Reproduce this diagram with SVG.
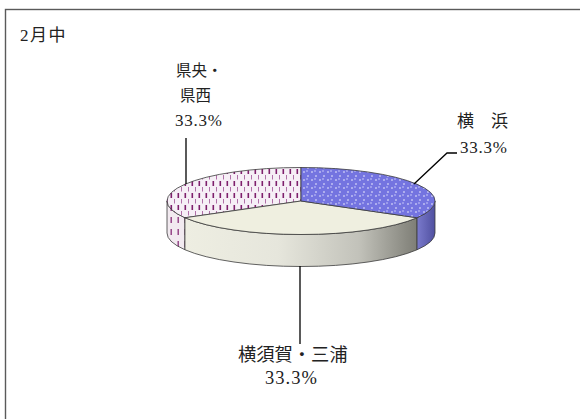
<svg xmlns="http://www.w3.org/2000/svg" width="580" height="419" viewBox="0 0 580 419">
<style>
.lbl{font-family:"Liberation Serif","Noto Sans CJK JP",serif;fill:#222;}
.edge{stroke:#3a3a3a;stroke-width:0.8;stroke-linejoin:round;}
.lead{fill:none;stroke:#000;stroke-width:1.3;}
</style>
<defs>
<pattern id="pBlue" width="8" height="8" patternUnits="userSpaceOnUse">
<rect width="8" height="8" fill="#cfcff6"/>
<rect x="2.5" y="2.5" width="3" height="3" fill="#f4f4ff"/>
<circle cx="0" cy="0" r="3.3" fill="#7474e0"/>
<circle cx="8" cy="0" r="3.3" fill="#7474e0"/>
<circle cx="0" cy="8" r="3.3" fill="#7474e0"/>
<circle cx="8" cy="8" r="3.3" fill="#7474e0"/>
<circle cx="4" cy="4" r="3.3" fill="#7474e0"/>
<circle cx="3" cy="3" r="1" fill="#a8a8f0"/>
</pattern>
<pattern id="pPurple" width="7" height="12" patternUnits="userSpaceOnUse">
<rect width="7" height="12" fill="#f6eff6"/>
<rect x="2.5" y="1" width="1.6" height="5" fill="#7e1f6c"/>
<rect x="6" y="7" width="1" height="4.5" fill="#b070a8"/>
</pattern>
<pattern id="pPurpleSide" width="7" height="12" patternUnits="userSpaceOnUse">
<rect width="7" height="12" fill="#f2eaf0"/>
<rect x="2.5" y="1" width="1.4" height="6" fill="#8e3a80"/>
</pattern>
<linearGradient id="gSide" x1="185" y1="0" x2="417" y2="0" gradientUnits="userSpaceOnUse">
<stop offset="0" stop-color="#eeeee2"/>
<stop offset="0.4" stop-color="#e6e6dc"/>
<stop offset="0.75" stop-color="#c2c2ba"/>
<stop offset="1" stop-color="#7e7e76"/>
</linearGradient>
<linearGradient id="gBlueSide" x1="417" y1="0" x2="435" y2="0" gradientUnits="userSpaceOnUse">
<stop offset="0" stop-color="#7a7acc"/>
<stop offset="1" stop-color="#5050a0"/>
</linearGradient>
</defs>
<rect x="0" y="0" width="580" height="419" fill="#fff"/>
<rect x="5.5" y="9.5" width="620" height="500" fill="none" stroke="#5a5a5a" stroke-width="1.4"/>
<text class="lbl" x="20" y="41" font-size="17" letter-spacing="1.5">2月中</text>

<g id="pie">
<g id="slice-kenou">
<path class="edge" fill="url(#pPurpleSide)" d="M167,201 A134,33.5 0 0,0 184.95,217.75 L184.95,249.75 A134,33.5 0 0,1 167,233 Z"/>
<path class="edge" fill="url(#pPurple)" d="M301,201 L184.95,217.75 A134,33.5 0 0,1 301,167.5 Z"/>
</g>
<g id="slice-yokosuka">
<path class="edge" fill="url(#gSide)" d="M184.95,217.75 A134,33.5 0 0,0 417.05,217.75 L417.05,249.75 A134,33.5 0 0,1 184.95,249.75 Z"/>
<path class="edge" fill="#efefe0" d="M301,201 L417.05,217.75 A134,33.5 0 0,1 184.95,217.75 Z"/>
</g>
<g id="slice-yokohama">
<path class="edge" fill="url(#gBlueSide)" d="M417.05,217.75 A134,33.5 0 0,0 435,201 L435,233 A134,33.5 0 0,1 417.05,249.75 Z"/>
<path class="edge" fill="url(#pBlue)" d="M301,201 L301,167.5 A134,33.5 0 0,1 417.05,217.75 Z"/>
</g>
</g>

<g id="connectors">
<line class="lead" x1="186" y1="138" x2="186" y2="184"/>
<polyline class="lead" points="414,184 447,153 457,153"/>
<line class="lead" x1="300" y1="266" x2="300" y2="344"/>
</g>

<g id="label-kenou">
<text class="lbl" x="176" y="76" font-size="15.5">県央・</text>
<text class="lbl" x="180" y="101" font-size="15.5">県西</text>
<text class="lbl" x="175" y="126" font-size="17" textLength="47">33.3%</text>
</g>
<g id="label-yokohama">
<text class="lbl" x="457" y="127" font-size="17">横　浜</text>
<text class="lbl" x="460" y="153" font-size="17" textLength="47">33.3%</text>
</g>
<g id="label-yokosuka">
<text class="lbl" x="238" y="361" font-size="18.3">横須賀・三浦</text>
<text class="lbl" x="265" y="384" font-size="18.5" textLength="52">33.3%</text>
</g>
</svg>
